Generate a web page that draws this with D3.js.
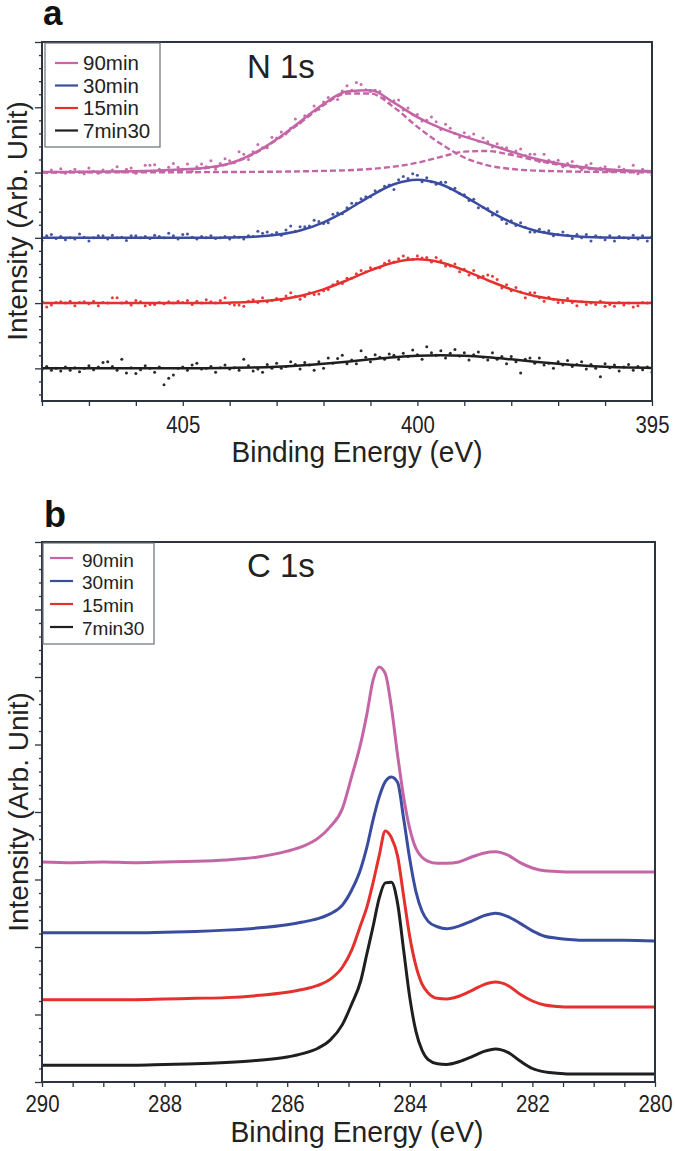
<!DOCTYPE html>
<html><head><meta charset="utf-8">
<script src="https://cdn.jsdelivr.net/npm/d3@7"></script>
<style>body{margin:0;background:#fff}svg{display:block;font-family:"Liberation Sans",Arial,Helvetica,sans-serif}</style>
</head><body><svg id="c" width="675" height="1151"></svg>
<script>
// ---------------- DATA ----------------
const seriesNames = ["90min","30min","15min","7min30"];
const seriesColors = ["#c465a6","#3a4c9f","#e5312e","#1f1f1f"];

// Panel a : N 1s  (stack offsets in arbitrary units)
const nOffsets = [3,2,1,0];
const nFitBE = [408,407.5,407,406.5,406,405.5,405,404.5,404,403.5,403,402.5,402,401.5,401,400.5,400,399.5,399,398.5,398,397.5,397,396.5,396,395.5,395];
const nFit90 = [0.01,0.01,0.012,0.015,0.02,0.03,0.05,0.075,0.14,0.29,0.51,0.78,1.05,1.24,1.26,1.07,0.85,0.68,0.55,0.44,0.32,0.215,0.14,0.085,0.05,0.03,0.02];
const nPeakA90 = [0.005,0.006,0.008,0.01,0.015,0.025,0.045,0.07,0.135,0.28,0.50,0.76,1.03,1.21,1.21,1.00,0.70,0.44,0.23,0.11,0.055,0.03,0.02,0.012,0.008,0.005,0.004];
const nPeakB90 = [0.002,0.002,0.003,0.003,0.004,0.004,0.005,0.006,0.008,0.01,0.013,0.018,0.025,0.035,0.055,0.09,0.15,0.24,0.32,0.33,0.27,0.19,0.12,0.07,0.04,0.022,0.013];
const nFit30 = [0,0,0,0,0,0,0,0.001,0.005,0.016,0.046,0.113,0.238,0.424,0.64,0.82,0.89,0.82,0.64,0.424,0.238,0.113,0.046,0.016,0.005,0.001,0];
const nFit15 = [0,0,0,0,0,0,0.001,0.002,0.007,0.02,0.05,0.11,0.211,0.35,0.502,0.623,0.67,0.623,0.502,0.35,0.211,0.11,0.05,0.02,0.007,0.002,0.001];
const nFit7 = [0,0,0,0,0,0.001,0.001,0.003,0.007,0.014,0.026,0.045,0.071,0.103,0.138,0.17,0.192,0.2,0.192,0.17,0.138,0.103,0.071,0.045,0.026,0.014,0.007];

// raw points, 408 -> 395 eV every 0.1 eV
const nRawStart = 408, nRawStep = 0.1;
const nRaw90 = [0.03,0.00,0.04,0.01,0.06,-0.01,0.02,0.05,0.01,-0.02,
0.07,0.02,-0.01,0.04,0.01,0.04,0.09,0.01,0.05,0.07,
-0.01,0.02,0.11,0.11,0.12,0.05,0.02,0.08,0.14,0.08,
0.05,0.13,0.02,0.09,0.13,0.09,0.18,0.05,0.14,0.21,
0.18,0.15,0.32,0.28,0.20,0.32,0.43,0.38,0.38,0.54,
0.53,0.62,0.59,0.68,0.82,0.76,0.87,0.89,1.02,0.97,
1.08,1.15,1.13,1.12,1.25,1.33,1.26,1.38,1.35,1.27,
1.24,1.26,1.24,1.15,1.06,1.10,1.11,0.96,0.99,0.89,
0.89,0.79,0.80,0.85,0.78,0.66,0.74,0.68,0.60,0.54,
0.61,0.55,0.59,0.48,0.53,0.47,0.39,0.44,0.38,0.38,
0.30,0.33,0.36,0.26,0.28,0.28,0.17,0.28,0.19,0.16,
0.19,0.09,0.14,0.17,0.10,0.04,0.11,0.14,0.04,0.07,
0.09,0.02,0.04,0.09,0.05,0.02,0.11,-0.02,0.05,0.02,
-0.04];
const nRaw30 = [-0.04,0.03,0.05,-0.01,0.02,-0.03,0.00,-0.02,0.06,0.01,
-0.05,0.00,0.03,0.03,-0.02,0.04,0.00,0.01,-0.04,0.03,
0.03,0.00,0.02,-0.01,0.04,0.02,0.00,0.07,0.03,-0.02,
0.05,0.06,0.01,-0.02,0.02,0.00,0.03,-0.01,0.00,0.02,
-0.02,0.02,0.01,-0.02,0.03,0.02,0.10,0.07,0.09,0.05,
0.08,0.04,0.12,0.18,0.10,0.17,0.17,0.18,0.27,0.25,
0.22,0.23,0.36,0.38,0.37,0.46,0.53,0.53,0.60,0.63,
0.63,0.72,0.72,0.79,0.81,0.74,0.89,0.94,0.91,0.98,
0.96,0.86,0.92,0.86,0.82,0.85,0.85,0.75,0.76,0.68,
0.66,0.57,0.59,0.46,0.47,0.45,0.35,0.40,0.28,0.22,
0.26,0.19,0.23,0.16,0.09,0.09,0.13,0.09,0.11,0.03,
0.05,0.09,0.04,-0.01,0.05,0.00,0.05,-0.05,0.03,0.01,
-0.03,0.03,-0.05,0.02,0.00,-0.01,0.04,-0.02,0.03,-0.05,
0.02];
const nRaw15 = [0.03,-0.06,-0.03,0.01,0.02,0.00,0.03,-0.04,0.01,0.02,
-0.01,0.03,-0.04,0.01,0.00,0.08,0.08,0.00,0.02,-0.03,
0.04,0.02,-0.04,-0.02,-0.02,0.01,-0.01,0.02,0.00,0.03,
0.01,0.04,-0.02,0.03,0.00,0.05,0.02,0.00,0.04,0.08,
-0.01,-0.03,-0.03,-0.05,0.03,0.05,0.01,0.08,0.02,0.04,
0.07,0.04,0.11,0.16,0.10,0.06,0.10,0.16,0.13,0.14,
0.19,0.21,0.28,0.33,0.30,0.38,0.38,0.45,0.50,0.48,
0.54,0.53,0.54,0.61,0.65,0.63,0.68,0.72,0.69,0.67,
0.72,0.69,0.70,0.63,0.70,0.65,0.57,0.57,0.60,0.48,
0.52,0.43,0.50,0.39,0.41,0.43,0.41,0.36,0.23,0.28,
0.19,0.24,0.17,0.08,0.16,0.16,0.08,0.03,0.09,0.06,
0.01,0.01,0.07,0.01,-0.04,0.02,-0.02,0.00,-0.02,0.03,
-0.05,-0.02,-0.05,0.01,-0.03,0.00,-0.06,-0.04,0.01,0.00,
0.02];
const nRaw7 = [-0.02,0.03,-0.03,0.00,-0.04,0.02,-0.03,0.01,-0.05,0.00,
0.04,-0.02,0.02,0.09,0.10,0.03,-0.03,0.14,-0.07,0.01,
-0.08,-0.02,0.04,0.00,-0.06,0.02,-0.25,-0.15,-0.10,0.00,
0.02,-0.03,0.05,0.08,-0.01,0.00,0.03,-0.06,0.01,0.05,
-0.01,0.01,-0.03,0.14,0.04,-0.04,-0.01,-0.06,0.06,0.00,
0.08,0.00,0.03,0.10,0.06,-0.01,0.09,0.05,-0.03,0.10,
0.00,0.16,0.08,0.15,0.20,0.07,0.13,0.07,0.27,0.17,
0.10,0.21,0.17,0.14,0.22,0.20,0.14,0.23,0.18,0.28,
0.21,0.14,0.33,0.24,0.20,0.27,0.16,0.23,0.29,0.19,
0.24,0.13,0.21,0.25,0.17,0.13,0.24,0.14,0.18,0.07,
0.18,0.10,-0.07,0.14,0.16,0.08,0.16,0.05,0.08,0.00,
0.10,0.05,0.12,0.03,0.06,0.10,-0.01,0.06,0.00,-0.13,
0.07,0.01,0.05,-0.04,0.02,0.06,-0.03,0.03,-0.02,0.02,
-0.06];

// Panel b : C 1s
const bBE = [290,289.5,289,288.5,288,287.5,287,286.5,286,285.75,285.5,285.3,285.1,284.95,284.8,284.7,284.6,284.5,284.4,284.3,284.2,284.1,284,283.9,283.8,283.7,283.55,283.4,283.2,283,282.8,282.6,282.4,282.2,282,281.8,281.6,281.4,281.2,281,280.5,280];
const b90 = [3.26,3.25,3.26,3.25,3.26,3.27,3.29,3.33,3.42,3.49,3.61,3.78,4.05,4.52,5.02,5.45,5.95,6.15,6.05,5.55,4.85,4.22,3.75,3.46,3.33,3.27,3.24,3.24,3.26,3.33,3.39,3.41,3.36,3.25,3.17,3.13,3.12,3.11,3.11,3.11,3.11,3.11];
const b30 = [2.21,2.21,2.21,2.21,2.22,2.23,2.25,2.28,2.33,2.37,2.42,2.49,2.62,2.84,3.16,3.48,3.88,4.22,4.45,4.52,4.44,3.90,3.30,2.82,2.53,2.38,2.30,2.27,2.31,2.38,2.46,2.50,2.45,2.35,2.24,2.16,2.13,2.11,2.10,2.10,2.10,2.09];
const b15 = [1.22,1.22,1.22,1.22,1.23,1.24,1.25,1.28,1.33,1.37,1.43,1.52,1.70,1.95,2.33,2.59,2.95,3.35,3.72,3.62,3.35,2.75,2.15,1.72,1.45,1.32,1.24,1.23,1.27,1.35,1.44,1.48,1.43,1.30,1.20,1.14,1.12,1.11,1.11,1.11,1.11,1.11];
const b7 = [0.25,0.25,0.25,0.25,0.26,0.27,0.29,0.32,0.37,0.42,0.50,0.62,0.85,1.15,1.50,1.90,2.30,2.72,2.95,2.96,2.65,1.95,1.25,0.75,0.47,0.33,0.27,0.26,0.30,0.37,0.45,0.49,0.44,0.31,0.20,0.15,0.13,0.12,0.12,0.12,0.12,0.12];

const aTickLabels = [405,400,395];
const bTickLabels = [290,288,286,284,282,280];

// ---------------- DRAW ----------------
const svg = d3.select("#c");
const frameColor = "#2c3440";
const textColor = "#222";

function yTicks(g, scale, lo, hi) {
  // majors at integers, minors every 0.2
  const majors = d3.range(Math.ceil(lo), Math.floor(hi) + 1);
  const minors = d3.range(Math.ceil(lo * 5), Math.floor(hi * 5) + 1).filter(k => k % 5 !== 0).map(k => k / 5);
  const gMaj = g.append("g").call(d3.axisLeft(scale).tickValues(majors).tickSize(7).tickFormat(""));
  const gMin = g.append("g").call(d3.axisLeft(scale).tickValues(minors).tickSize(3).tickFormat(""));
  [gMaj, gMin].forEach(a => { a.select(".domain").remove(); a.selectAll("line").attr("stroke", frameColor).attr("stroke-width", 1.3); });
}

function xTicks(g, scale, values, labels, y0, labelDy, len) {
  const ax = g.append("g").attr("transform", `translate(0,${y0})`)
    .call(d3.axisBottom(scale).tickValues(values).tickSize(5)
      .tickFormat(d => labels.some(l => Math.abs(l - d) < 1e-6) ? String(d) : ""));
  ax.select(".domain").remove();
  ax.selectAll("line").attr("stroke", frameColor).attr("stroke-width", 1.3);
  ax.selectAll("text").attr("y", labelDy).attr("dy", null)
    .attr("font-size", 23).attr("fill", textColor)
    .attr("font-family", '"Liberation Sans",Arial,sans-serif')
    .each(function () { const t = d3.select(this); if (t.text() !== "") t.attr("textLength", len).attr("lengthAdjust", "spacingAndGlyphs"); });
}

function legend(g, x, y, w, h, lineX0, lineX1, lineYs, textX, textYs, fs) {
  g.append("rect").attr("x", x).attr("y", y).attr("width", w).attr("height", h)
    .attr("fill", "#fff").attr("stroke", "#6a6f78").attr("stroke-width", 1.2);
  seriesNames.forEach((s, i) => {
    g.append("line").attr("x1", lineX0).attr("x2", lineX1).attr("y1", lineYs[i]).attr("y2", lineYs[i])
      .attr("stroke", seriesColors[i]).attr("stroke-width", 2.2);
    g.append("text").attr("x", textX).attr("y", textYs[i]).attr("font-size", fs).attr("fill", textColor).text(s);
  });
}

// ===== Panel a =====
{
  const x = d3.scaleLinear().domain([408, 395]).range([42, 652]);
  const y = d3.scaleLinear().domain([-0.5, 5]).range([401, 42]);
  const g = svg.append("g");
  g.append("clipPath").attr("id", "clipA").append("rect").attr("x", 42).attr("y", 42).attr("width", 610).attr("height", 359);
  const plot = g.append("g").attr("clip-path", "url(#clipA)");

  const raws = [nRaw90, nRaw30, nRaw15, nRaw7];
  const fits = [nFit90, nFit30, nFit15, nFit7];
  const line = d3.line().x(d => x(d[0])).y(d => y(d[1])).curve(d3.curveMonotoneX);

  raws.forEach((r, si) => {
    plot.append("g").selectAll("circle").data(r).join("circle")
      .attr("cx", (d, i) => x(nRawStart - nRawStep * i))
      .attr("cy", d => y(nOffsets[si] + d))
      .attr("r", 1.5).attr("fill", seriesColors[si]).attr("opacity", 0.95);
  });
  [nPeakA90, nPeakB90].forEach(arr => {
    plot.append("path").attr("d", line(nFitBE.map((b, i) => [b, nOffsets[0] + arr[i]])))
      .attr("fill", "none").attr("stroke", seriesColors[0]).attr("stroke-width", 2.4)
      .attr("stroke-dasharray", "6,3");
  });
  fits.forEach((f, si) => {
    plot.append("path").attr("d", line(nFitBE.map((b, i) => [b, nOffsets[si] + f[i]])))
      .attr("fill", "none").attr("stroke", seriesColors[si]).attr("stroke-width", 2.5);
  });

  xTicks(g, x, d3.range(408, 394.5, -1), aTickLabels, 401, 32, 34);
  g.append("g").attr("transform", "translate(42,0)").call(gg => yTicks(gg, y, -0.5, 5));
  g.append("rect").attr("x", 42).attr("y", 42).attr("width", 610).attr("height", 359)
    .attr("fill", "none").attr("stroke", frameColor).attr("stroke-width", 2);

  legend(g, 45, 43, 115, 104, 55, 78, [63, 85.5, 108, 130.5], 83, [70, 92.7, 115.4, 138], 20.5);

  g.append("text").attr("x", 247).attr("y", 78).attr("font-size", 33).attr("fill", textColor).text("N 1s");
  g.append("text").attr("x", 357).attr("y", 462).attr("text-anchor", "middle").attr("font-size", 29)
    .attr("fill", textColor).attr("textLength", 251).attr("lengthAdjust", "spacingAndGlyphs").text("Binding Energy (eV)");
  g.append("text").attr("transform", "translate(27,221) rotate(-90)").attr("text-anchor", "middle")
    .attr("font-size", 28).attr("fill", textColor).text("Intensity (Arb. Unit)");
  g.append("text").attr("x", 43).attr("y", 25).attr("font-size", 35).attr("font-weight", "bold").attr("fill", "#111").text("a");
}

// ===== Panel b =====
{
  const x = d3.scaleLinear().domain([290, 280]).range([42, 655]);
  const y = d3.scaleLinear().domain([0, 8]).range([1082, 542]);
  const g = svg.append("g");
  g.append("clipPath").attr("id", "clipB").append("rect").attr("x", 42).attr("y", 542).attr("width", 613).attr("height", 540);
  const plot = g.append("g").attr("clip-path", "url(#clipB)");
  const line = d3.line().x(d => x(d[0])).y(d => y(d[1])).curve(d3.curveMonotoneX);
  [b90, b30, b15, b7].forEach((arr, si) => {
    plot.append("path").attr("d", line(bBE.map((b, i) => [b, arr[i]])))
      .attr("fill", "none").attr("stroke", seriesColors[si]).attr("stroke-width", 3)
      .attr("stroke-linejoin", "round");
  });

  xTicks(g, x, d3.range(0, 21).map(k => 290 - k * 0.5), bTickLabels, 1082, 30, 34);
  g.append("g").attr("transform", "translate(42,0)").call(gg => yTicks(gg, y, 0, 8));
  g.append("rect").attr("x", 42).attr("y", 542).attr("width", 613).attr("height", 540)
    .attr("fill", "none").attr("stroke", frameColor).attr("stroke-width", 2);

  legend(g, 43, 543, 111, 101, 50, 73, [558, 581, 604, 627], 82, [566.7, 589.3, 611.7, 635], 19);

  g.append("text").attr("x", 247).attr("y", 577).attr("font-size", 33).attr("fill", textColor).text("C 1s");
  g.append("text").attr("x", 357).attr("y", 1142).attr("text-anchor", "middle").attr("font-size", 29)
    .attr("fill", textColor).attr("textLength", 253).attr("lengthAdjust", "spacingAndGlyphs").text("Binding Energy (eV)");
  g.append("text").attr("transform", "translate(28,812) rotate(-90)").attr("text-anchor", "middle")
    .attr("font-size", 28).attr("fill", textColor).text("Intensity (Arb. Unit)");
  g.append("text").attr("x", 44).attr("y", 527).attr("font-size", 36).attr("font-weight", "bold").attr("fill", "#111").text("b");
}
</script></body></html>
